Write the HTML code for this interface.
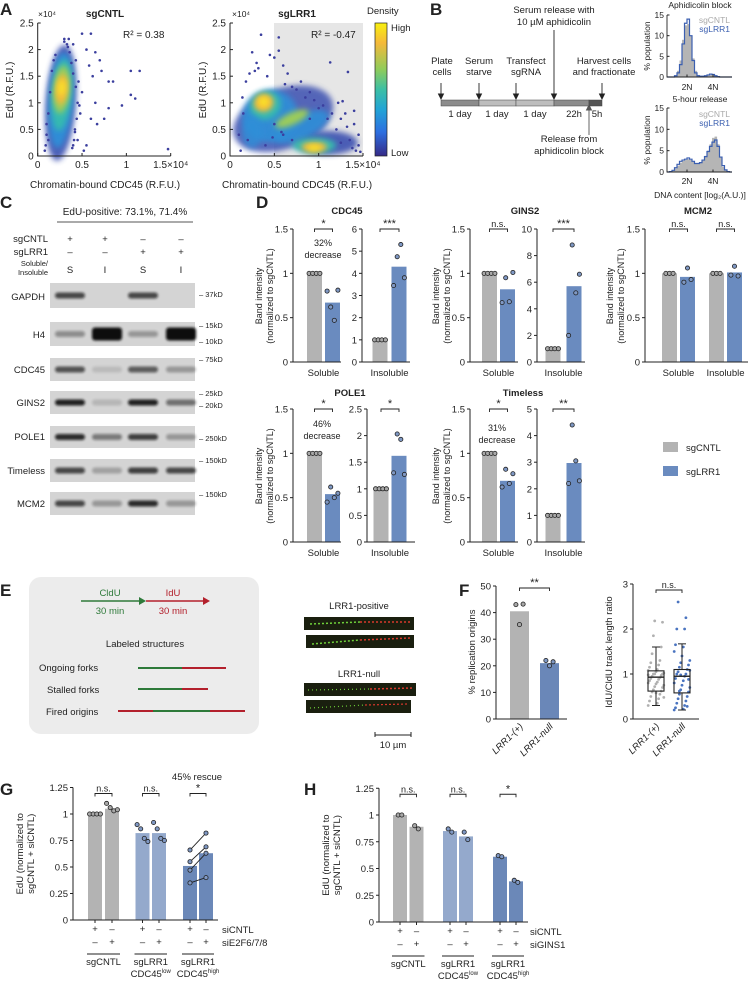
<!DOCTYPE html>
<html><head><meta charset="utf-8">
<style>
html,body{margin:0;padding:0;background:#fff;}
svg{display:block;font-family:"Liberation Sans",Arial,sans-serif;}
text{fill:#222;}
</style></head>
<body>
<svg id="fig" width="753" height="981" viewBox="0 0 753 981" xmlns="http://www.w3.org/2000/svg">
<defs>
<filter id="blur3" x="-50%" y="-50%" width="200%" height="200%"><feGaussianBlur stdDeviation="3"/></filter>
<filter id="blur1" x="-50%" y="-50%" width="200%" height="200%"><feGaussianBlur stdDeviation="1.4"/></filter>
<linearGradient id="parula" x1="0" y1="0" x2="0" y2="1">
<stop offset="0" stop-color="#f9f00f"/><stop offset="0.15" stop-color="#f5b93a"/><stop offset="0.35" stop-color="#8fcc5b"/><stop offset="0.5" stop-color="#3cbfa5"/><stop offset="0.65" stop-color="#22a4d6"/><stop offset="0.82" stop-color="#2d6fe0"/><stop offset="1" stop-color="#352a87"/>
</linearGradient>
</defs>

<!-- PANEL LETTERS -->
<g font-weight="bold" font-size="17">
<text x="0" y="15">A</text><text x="430" y="15">B</text><text x="0" y="208">C</text><text x="256" y="208">D</text>
<text x="0" y="596">E</text><text x="459" y="596">F</text><text x="0" y="795">G</text><text x="304" y="795">H</text>
</g>

<!-- PANEL A -->
<g id="panelA" font-size="9.5">
<rect x="274" y="23" width="89" height="133" fill="#e6e6e6"/>
<text x="38" y="17" font-size="8.5">×10⁴</text><text x="232" y="17" font-size="8.5">×10⁴</text>
<text x="105" y="17" font-weight="bold" text-anchor="middle" font-size="10">sgCNTL</text>
<text x="297" y="17" font-weight="bold" text-anchor="middle" font-size="10">sgLRR1</text>
<text x="123" y="38" font-size="10">R² = 0.38</text><text x="311" y="38" font-size="10">R² = -0.47</text>
<text transform="translate(13,90) rotate(-90)" text-anchor="middle" font-size="10">EdU (R.F.U.)</text>
<text transform="translate(206,90) rotate(-90)" text-anchor="middle" font-size="10">EdU (R.F.U.)</text>
<text x="105" y="188" text-anchor="middle" font-size="10">Chromatin-bound CDC45 (R.F.U.)</text>
<text x="297" y="188" text-anchor="middle" font-size="10">Chromatin-bound CDC45 (R.F.U.)</text>
<text x="367" y="14" font-size="9.5">Density</text>
<rect x="375" y="23" width="12" height="133" fill="url(#parula)" stroke="#222" stroke-width="0.7"/>
<text x="391" y="31">High</text><text x="391" y="156">Low</text>
</g>

<!-- PANEL B -->
<g id="panelB" font-size="9.5" text-anchor="middle">
<text x="554" y="13">Serum release with</text><text x="554" y="25">10 µM aphidicolin</text>
<text x="442" y="64">Plate</text><text x="442" y="75">cells</text>
<text x="479" y="64">Serum</text><text x="479" y="75">starve</text>
<text x="526" y="64">Transfect</text><text x="526" y="75">sgRNA</text>
<text x="604" y="64">Harvest cells</text><text x="604" y="75">and fractionate</text>
<g stroke="#222" stroke-width="0.9" fill="#222">
<line x1="441" y1="83" x2="441" y2="96"/><path d="M438.5 94 L441 99 L443.5 94Z"/>
<line x1="479" y1="83" x2="479" y2="96"/><path d="M476.5 94 L479 99 L481.5 94Z"/>
<line x1="516" y1="83" x2="516" y2="96"/><path d="M513.5 94 L516 99 L518.5 94Z"/>
<line x1="554" y1="30" x2="554" y2="96"/><path d="M551.5 94 L554 99 L556.5 94Z"/>
<line x1="602" y1="83" x2="602" y2="96"/><path d="M599.5 94 L602 99 L604.5 94Z"/>
<line x1="589" y1="108" x2="589" y2="135" stroke="#555"/><path d="M586.5 110 L589 105 L591.5 110Z" fill="#555" stroke="#555"/>
</g>
<rect x="441" y="100" width="38" height="6" fill="#8c8c8c" stroke="#444" stroke-width="0.5"/>
<rect x="479" y="100" width="37" height="6" fill="#bdbdbd" stroke="#444" stroke-width="0.5"/>
<rect x="516" y="100" width="38" height="6" fill="#bdbdbd" stroke="#444" stroke-width="0.5"/>
<rect x="554" y="100" width="35" height="6" fill="#8c8c8c" stroke="#444" stroke-width="0.5"/>
<rect x="589" y="100" width="13" height="6" fill="#555" stroke="#444" stroke-width="0.5"/>
<text x="460" y="117">1 day</text><text x="497" y="117">1 day</text><text x="535" y="117">1 day</text><text x="574" y="117">22h</text><text x="597" y="117">5h</text>
<text x="569" y="142">Release from</text><text x="569" y="154">aphidicolin block</text>
<text x="700" y="8" font-size="8.5">Aphidicolin block</text>
<text x="700" y="102" font-size="8.5">5-hour release</text>
<text x="700" y="198" font-size="8.5">DNA content [log₂(A.U.)]</text>
<text x="687" y="90" font-size="8.5">2N</text><text x="713" y="90" font-size="8.5">4N</text>
<text x="687" y="184" font-size="8.5">2N</text><text x="713" y="184" font-size="8.5">4N</text>
<text transform="translate(650,46) rotate(-90)" font-size="8.5">% population</text>
<text transform="translate(650,140) rotate(-90)" font-size="8.5">% population</text>
<g text-anchor="end" font-size="8.5">
<text x="730" y="23" style="fill:#aaa">sgCNTL</text><text x="730" y="32" style="fill:#3b5fb0">sgLRR1</text>
<text x="730" y="117" style="fill:#aaa">sgCNTL</text><text x="730" y="126" style="fill:#3b5fb0">sgLRR1</text>
</g>
</g>

<!-- PANEL C -->
<g id="panelC" font-size="9.5">
<text x="125" y="215" text-anchor="middle" font-size="10">EdU-positive: 73.1%, 71.4%</text>
<line x1="57" y1="222" x2="193" y2="222" stroke="#555" stroke-width="1"/>
<g text-anchor="end"><text x="48" y="242">sgCNTL</text><text x="48" y="255">sgLRR1</text>
<text x="48" y="266" font-size="7.5">Soluble/</text><text x="48" y="275" font-size="7.5">Insoluble</text>
<text x="45" y="300">GAPDH</text><text x="45" y="338">H4</text><text x="45" y="373">CDC45</text><text x="45" y="406">GINS2</text><text x="45" y="440">POLE1</text><text x="45" y="474">Timeless</text><text x="45" y="507">MCM2</text></g>
<g text-anchor="middle">
<text x="70" y="242">+</text><text x="105" y="242">+</text><text x="143" y="242">–</text><text x="181" y="242">–</text>
<text x="70" y="255">–</text><text x="105" y="255">–</text><text x="143" y="255">+</text><text x="181" y="255">+</text>
<text x="70" y="273">S</text><text x="105" y="273">I</text><text x="143" y="273">S</text><text x="181" y="273">I</text></g>
<g font-size="7.5">
<text x="199" y="297">– 37kD</text><text x="199" y="328">– 15kD</text><text x="199" y="344">– 10kD</text>
<text x="199" y="362">– 75kD</text><text x="199" y="396">– 25kD</text><text x="199" y="408">– 20kD</text>
<text x="199" y="441">– 250kD</text><text x="199" y="463">– 150kD</text><text x="199" y="497">– 150kD</text></g>
<g id="blots"></g>
</g>

<!-- PANEL D -->
<g id="panelD" font-size="9.5">
<g font-weight="bold" text-anchor="middle" font-size="9.5">
<text x="347" y="214">CDC45</text><text x="525" y="214">GINS2</text><text x="698" y="214">MCM2</text>
<text x="350" y="396">POLE1</text><text x="523" y="396">Timeless</text></g>
<g text-anchor="middle" font-size="9">
<text transform="translate(262,296) rotate(-90)">Band intensity</text><text transform="translate(273,296) rotate(-90)">(normalized to sgCNTL)</text>
<text transform="translate(439,296) rotate(-90)">Band intensity</text><text transform="translate(450,296) rotate(-90)">(normalized to sgCNTL)</text>
<text transform="translate(613,296) rotate(-90)">Band intensity</text><text transform="translate(624,296) rotate(-90)">(normalized to sgCNTL)</text>
<text transform="translate(262,476) rotate(-90)">Band intensity</text><text transform="translate(273,476) rotate(-90)">(normalized to sgCNTL)</text>
<text transform="translate(439,476) rotate(-90)">Band intensity</text><text transform="translate(450,476) rotate(-90)">(normalized to sgCNTL)</text>
<text x="323" y="246">32%</text><text x="323" y="258">decrease</text>
<text x="322" y="427">46%</text><text x="322" y="439">decrease</text>
<text x="497" y="431">31%</text><text x="497" y="443">decrease</text>
</g>
<rect x="663" y="442" width="15" height="10" fill="#b3b3b3"/>
<text x="686" y="451">sgCNTL</text>
<rect x="663" y="466" width="15" height="10" fill="#6a8bbf"/>
<text x="686" y="475">sgLRR1</text>
</g>

<!-- PANEL E -->
<g id="panelE" font-size="9.5">
<rect x="29" y="577" width="230" height="157" rx="12" fill="#ececec"/>
<text x="110" y="596" text-anchor="middle" style="fill:#2e7a3a">CldU</text><text x="173" y="596" text-anchor="middle" style="fill:#b3202c">IdU</text>
<line x1="81" y1="601" x2="141" y2="601" stroke="#2e7a3a" stroke-width="1.6"/><path d="M139 597 L146 601 L139 605Z" fill="#2e7a3a"/>
<line x1="146" y1="601" x2="205" y2="601" stroke="#b3202c" stroke-width="1.6"/><path d="M203 597 L210 601 L203 605Z" fill="#b3202c"/>
<text x="110" y="614" text-anchor="middle" style="fill:#2e7a3a">30 min</text><text x="173" y="614" text-anchor="middle" style="fill:#b3202c">30 min</text>
<text x="145" y="647" text-anchor="middle">Labeled structures</text>
<text x="39" y="671">Ongoing forks</text><text x="47" y="693">Stalled forks</text><text x="46" y="715">Fired origins</text>
<g stroke-width="2">
<line x1="138" y1="668" x2="182" y2="668" stroke="#2e7a3a"/><line x1="182" y1="668" x2="226" y2="668" stroke="#b3202c"/>
<line x1="138" y1="689" x2="182" y2="689" stroke="#2e7a3a"/><line x1="182" y1="689" x2="208" y2="689" stroke="#b3202c"/>
<line x1="118" y1="711" x2="153" y2="711" stroke="#b3202c"/><line x1="153" y1="711" x2="210" y2="711" stroke="#2e7a3a"/><line x1="210" y1="711" x2="245" y2="711" stroke="#b3202c"/>
</g>
<text x="359" y="609" text-anchor="middle">LRR1-positive</text><text x="359" y="677" text-anchor="middle">LRR1-null</text>
<g>
<rect x="304" y="617" width="110" height="13" fill="#1a1f0f"/><rect x="306" y="635" width="108" height="13" fill="#1a1f0f"/>
<rect x="304" y="683" width="112" height="13" fill="#1a1f0f"/><rect x="306" y="700" width="105" height="13" fill="#1a1f0f"/>
<line x1="310" y1="624" x2="360" y2="622" stroke="#6fd13a" stroke-width="1.5" stroke-dasharray="2 2"/><line x1="360" y1="622" x2="410" y2="622" stroke="#d8382c" stroke-width="1.5" stroke-dasharray="2 2"/>
<line x1="312" y1="644" x2="360" y2="640" stroke="#6fd13a" stroke-width="1.5" stroke-dasharray="2 2"/><line x1="360" y1="640" x2="410" y2="638" stroke="#d8382c" stroke-width="1.5" stroke-dasharray="2 2"/>
<line x1="308" y1="690" x2="370" y2="689" stroke="#6fd13a" stroke-width="1.2" stroke-dasharray="1 3"/><line x1="370" y1="689" x2="414" y2="688" stroke="#d8382c" stroke-width="1.5" stroke-dasharray="2 2"/>
<line x1="310" y1="708" x2="365" y2="705" stroke="#6fd13a" stroke-width="1.2" stroke-dasharray="1 3"/><line x1="365" y1="705" x2="408" y2="704" stroke="#d8382c" stroke-width="1.2" stroke-dasharray="2 2"/>
</g>
<line x1="375" y1="735" x2="411" y2="735" stroke="#222" stroke-width="1"/><line x1="375" y1="732" x2="375" y2="737" stroke="#222"/><line x1="411" y1="732" x2="411" y2="737" stroke="#222"/>
<text x="393" y="748" text-anchor="middle">10 µm</text>
</g>

<g id="charts"></g>
</svg>

<script>
const NS = 'http://www.w3.org/2000/svg';
function mk(parent, tag, attrs, text) {
  const e = document.createElementNS(NS, tag);
  for (const k in attrs) e.setAttribute(k, attrs[k]);
  if (text != null) e.textContent = text;
  parent.appendChild(e);
  return e;
}
const charts = document.getElementById('charts');

/* ---------- DATA ---------- */
const aLeftX = [0.5,0.6,0.55,0.65,0.7,0.8,0.85,0.62,1.05,1.15,1.05,1.1,0.95,0.75,0.8,0.65,0.6,0.67,0.55,0.52,1.47,0.45,0.5,0.58,0.72,0.48,0.43,0.4,0.35,0.3,0.12,0.1,0.42,0.46,
  0.08,0.09,0.1,0.12,0.14,0.16,0.4,0.42,0.44,0.45,0.43,0.4,0.38,0.36,0.34,0.2,0.18,0.3,0.33,0.47,0.41,0.39];
const aLeftY = [2.3,2.3,2.0,1.95,1.8,1.4,1.4,1.5,1.6,1.6,1.15,1.08,0.95,0.7,0.9,1.0,0.7,0.6,0.2,0.1,0.13,0.3,1.2,1.7,1.6,0.8,1.8,2.1,2.2,2.2,0.3,0.6,0.5,1.4,
  0.1,0.2,0.4,0.8,1.2,1.6,0.2,0.45,0.7,1.0,1.3,1.55,1.75,1.95,2.05,1.9,1.8,2.15,2.1,0.95,0.3,0.15];
const aRightX = [0.35,0.55,0.55,0.6,0.5,0.45,1.13,1.33,1.22,1.27,1.3,1.4,1.45,0.7,0.9,0.8,1.0,1.1,1.2,1.35,0.25,0.3,0.18,0.15,0.2,0.6,0.7,0.5,1.42,1.38,1.25,0.95,0.65,
  0.12,0.1,0.14,0.22,0.28,0.32,0.42,0.62,0.75,0.85,1.05,1.15,1.25,1.32,1.45,1.47,0.4,0.48,0.58,0.9,1.4];
const aRightY = [2.28,2.23,1.98,1.7,1.85,1.9,1.76,1.58,1.0,1.03,0.8,0.6,0.2,1.3,1.2,1.4,0.9,0.7,0.5,0.3,1.95,1.75,1.4,0.8,0.3,0.4,0.3,0.6,0.1,0.15,0.25,1.05,1.55,
  0.1,0.4,1.1,1.55,1.6,1.65,1.5,1.35,1.25,1.1,0.95,0.8,0.7,0.55,0.4,0.08,0.2,0.35,0.45,0.7,0.85];
const aTicksY = [0,0.5,1,1.5,2,2.5];
const aTickLabY = ['0','0.5','1','1.5','2','2.5'];
const aTicksX = [0,0.5,1,1.5];
const aTickLabX = ['0','0.5','1','1.5×10⁴'];

const histTopCNTL = [0,0,0,0.4,1.5,4,9,12.5,12.8,10,4.5,1.5,0.5,0.3,0.3,0.4,0.5,0.5,0.4,0.3,0.1,0,0,0,0,0];
const histTopLRR1 = [0,0,0,0.3,1,3,8,13,14,10,4,1,0.3,0.2,0.2,0.3,0.5,0.7,0.6,0.3,0.1,0,0,0,0,0];
const histBotCNTL = [0,0.1,0.3,0.8,1.5,2.2,2.6,2.8,3,2.8,2.4,2,2,2.2,2.8,3.8,5,6.5,8,8.3,6.5,3.5,1.2,0.4,0.1,0];
const histBotLRR1 = [0,0.1,0.4,1,1.8,2.5,2.8,3,3.3,3,2.5,2,2,2.2,2.8,3.6,4.8,6,7,7.5,6,3.5,1.5,0.5,0.1,0];
const histTicks = [0,5,10,15];

const blotRows = ['GAPDH','H4','CDC45','GINS2','POLE1','Timeless','MCM2'];
const blotGAPDH = [0.7,0,0.7,0];
const blotH4 = [0.35,1,0.3,1];
const blotCDC45 = [0.65,0.12,0.6,0.3];
const blotGINS2 = [0.9,0.15,0.9,0.5];
const blotPOLE1 = [0.85,0.45,0.75,0.3];
const blotTimeless = [0.7,0.25,0.75,0.7];
const blotMCM2 = [0.7,0.3,0.85,0.3];

const cdc45Sol = [1, 0.67];       const cdc45SolDots = [[1,1,1,1],[0.8,0.62,0.47,0.81]];
const cdc45Ins = [1, 4.3];        const cdc45InsDots = [[1,1,1,1],[3.45,4.75,5.3,3.8]];
const gins2Sol = [1, 0.82];       const gins2SolDots = [[1,1,1,1],[0.67,0.95,0.68,1.01]];
const gins2Ins = [1, 5.7];        const gins2InsDots = [[1,1,1,1],[2.0,8.8,5.2,6.6]];
const mcm2Sol = [1, 0.96];        const mcm2SolDots = [[1,1,1],[0.9,1.06,0.93]];
const mcm2Ins = [1, 1.01];        const mcm2InsDots = [[1,1,1],[0.98,1.08,0.97]];
const pole1Sol = [1, 0.54];       const pole1SolDots = [[1,1,1,1],[0.45,0.62,0.5,0.55]];
const pole1Ins = [1, 1.62];       const pole1InsDots = [[1,1,1,1],[1.3,2.03,1.93,1.27]];
const timelessSol = [1, 0.69];    const timelessSolDots = [[1,1,1,1],[0.62,0.82,0.66,0.77]];
const timelessIns = [1, 2.97];    const timelessInsDots = [[1,1,1,1],[2.2,4.4,3.05,2.3]];

const fCats = ['LRR1-(+)','LRR1-null'];
const fOrigins = [40.5, 21];
const fOriginDots = [[43,35.5,43.2],[22,20,21.5]];
const fBoxPos = [0.3,0.62,0.93,1.07,1.6];
const fBoxNull = [0.2,0.58,0.95,1.1,1.67];
const fPtsPos = [0.3,0.35,0.4,0.45,0.5,0.55,0.6,0.62,0.65,0.7,0.72,0.75,0.78,0.8,0.82,0.85,0.88,0.9,0.92,0.95,0.97,1.0,1.0,1.0,1.02,1.05,1.08,1.1,1.15,1.2,1.25,1.3,1.45,1.6,1.85,2.15,2.18,0.48,0.58,0.98];
const fPtsNull = [0.2,0.22,0.25,0.3,0.35,0.4,0.45,0.5,0.55,0.6,0.65,0.7,0.75,0.8,0.85,0.9,0.95,1.0,1.0,1.05,1.1,1.15,1.2,1.25,1.3,1.4,1.5,1.6,1.65,2.0,2.0,2.25,2.6,0.28,0.62,0.88,0.98,1.08];

const gVals = [1, 1.05, 0.82, 0.82, 0.51, 0.63];
const gDots = [[1,1,1,1],[1.1,1.06,1.03,1.04],[0.9,0.86,0.77,0.74],[0.92,0.86,0.77,0.75],[0.66,0.55,0.47,0.35],[0.82,0.69,0.63,0.40]];
const hVals = [1, 0.89, 0.85, 0.80, 0.61, 0.38];
const hDots = [[1,1],[0.9,0.87],[0.87,0.84],[0.84,0.77],[0.62,0.61],[0.39,0.37]];
const ghTicks = [0,0.25,0.5,0.75,1,1.25];
const ghTickLab = ['0','0.25','0.5','0.75','1','1.25'];

/* ---------- PANEL A ---------- */
function aPlot(x0, name) {
  const g = mk(charts, 'g', {});
  
  
  const xs = v => x0 + v / 1.5 * 133;
  const ys = v => 156 - v / 2.5 * 133;
  return {g, xs, ys};
}
function aAxes(p, x0) {
  const ax = mk(p.g, 'path', {d: `M${x0} 23 L${x0} 156 L${x0+133} 156`, fill: 'none', stroke: '#222', 'stroke-width': 1});
  
  
  aTicksY.forEach((v, i) => {
    mk(p.g, 'line', {x1: x0, x2: x0 + 3, y1: p.ys(v), y2: p.ys(v), stroke: '#222'});
    const t = mk(p.g, 'text', {x: x0 - 4, y: p.ys(v) + 3.5, 'text-anchor': 'end', 'font-size': 10}, aTickLabY[i]);
    
    
  });
  aTicksX.forEach((v, i) => {
    mk(p.g, 'line', {x1: p.xs(v), x2: p.xs(v), y1: 156, y2: 153, stroke: '#222'});
    const t = mk(p.g, 'text', {x: p.xs(v), y: 168, 'text-anchor': 'middle', 'font-size': 10}, aTickLabX[i]);
    
    
  });
}
function cloud(p, cx, cy, rx, ry, rot, fill, op) {
  const e = mk(p.g, 'ellipse', {cx: p.xs(cx), cy: p.ys(cy), rx: rx, ry: ry, fill: fill, opacity: op, filter: 'url(#blur3)', transform: `rotate(${rot} ${p.xs(cx)} ${p.ys(cy)})`});
  
  
}
const pA1 = aPlot(37.7, 'scatter-sgcntl');
const pA2 = aPlot(230, 'scatter-sglrr1');
cloud(pA1, 0.26, 1.0, 15, 58, 4, '#3a4fb0', 0.9);
cloud(pA1, 0.26, 1.05, 12, 48, 4, '#2f8fd8', 0.95);
cloud(pA1, 0.27, 1.15, 10, 36, 5, '#35b9b0', 1);
cloud(pA1, 0.27, 1.25, 8, 24, 5, '#9ccc5a', 1);
cloud(pA1, 0.27, 1.25, 6, 15, 5, '#f5b93a', 1);
cloud(pA1, 0.27, 1.28, 3.5, 8, 5, '#f9e325', 1);
cloud(pA2, 0.6, 0.7, 52, 30, -20, '#3a4fb0', 0.85);
cloud(pA2, 1.1, 0.25, 30, 12, 0, '#3a4fb0', 0.9);
cloud(pA2, 0.45, 0.75, 28, 26, -20, '#2f8fd8', 0.9);
cloud(pA2, 0.8, 0.55, 30, 12, -25, '#2f8fd8', 0.9);
cloud(pA2, 0.95, 0.2, 22, 8, 0, '#35b9b0', 1);
cloud(pA2, 0.4, 0.95, 16, 14, -25, '#35b9b0', 1);
cloud(pA2, 0.7, 0.7, 18, 6, -25, '#9ccc5a', 1);
cloud(pA2, 0.38, 1.0, 10, 9, -20, '#f5b93a', 1);
cloud(pA2, 0.95, 0.17, 13, 5, 0, '#f5b93a', 1);
cloud(pA2, 0.38, 1.02, 5, 5, 0, '#f9e325', 1);
cloud(pA2, 0.95, 0.15, 7, 3, 0, '#f9e325', 1);
cloud(pA2, 0.25, 0.45, 10, 16, 0, '#2f8fd8', 0.8);
aLeftX.forEach((v, i) => {
  const c = mk(pA1.g, 'circle', {cx: pA1.xs(v), cy: pA1.ys(aLeftY[i]), r: 1.3, fill: '#3b3f9e'});
  
  
});
aRightX.forEach((v, i) => {
  const c = mk(pA2.g, 'circle', {cx: pA2.xs(v), cy: pA2.ys(aRightY[i]), r: 1.3, fill: '#3b3f9e'});
  
  
});
aAxes(pA1, 37.7);
aAxes(pA2, 230);

/* ---------- PANEL B histograms ---------- */
function hist(y0, yTop, cntl, lrr1, name) {
  const g = mk(charts, 'g', {});
  
  
  const x0 = 667, x1 = 732, n = cntl.length, bw = (x1 - x0) / n;
  const ys = v => y0 - v / 15 * (y0 - yTop);
  cntl.forEach((v, i) => {
    const r = mk(g, 'rect', {x: x0 + i * bw, y: ys(v), width: bw + 0.1, height: y0 - ys(v), fill: '#b5b5b5'});
    
    
  });
  let d = `M${x0} ${y0}`;
  lrr1.forEach((v, i) => { d += ` L${x0 + i * bw} ${ys(v)} L${x0 + (i + 1) * bw} ${ys(v)}`; });
  const l = mk(g, 'path', {d: d, fill: 'none', stroke: '#3b5fb0', 'stroke-width': 1.2});
  
  
  mk(g, 'path', {d: `M${x0} ${yTop} L${x0} ${y0} L${x1} ${y0}`, fill: 'none', stroke: '#222', 'stroke-width': 0.9});
  histTicks.forEach(v => {
    mk(g, 'line', {x1: x0, x2: x0 + 2.5, y1: ys(v), y2: ys(v), stroke: '#222'});
    mk(g, 'text', {x: x0 - 3, y: ys(v) + 3, 'text-anchor': 'end', 'font-size': 8.5}, String(v));
  });
  [687, 713].forEach(x => mk(g, 'line', {x1: x, x2: x, y1: y0, y2: y0 - 2.5, stroke: '#222'}));
}
hist(77, 15, histTopCNTL, histTopLRR1, 'histogram-aphidicolin-block');
hist(172, 108, histBotCNTL, histBotLRR1, 'histogram-5h-release');

/* ---------- PANEL C blots ---------- */
(function () {
  const g = document.getElementById('blots');
  const rowsY = [[283,25],[322,24],[358,23],[391,23],[426,22],[459,23],[492,23]];
  const data = [blotGAPDH, blotH4, blotCDC45, blotGINS2, blotPOLE1, blotTimeless, blotMCM2];
  const lanes = [70, 107, 143, 181];
  data.forEach((row, ri) => {
    const [y, h] = rowsY[ri];
    const bg = mk(g, 'rect', {x: 50, y: y, width: 145, height: h, fill: '#d4d4d4'});
    
    
    row.forEach((v, li) => {
      if (v <= 0) return;
      const bh = blotRows[ri] === 'H4' && v > 0.8 ? 13 : 6;
      const b = mk(g, 'rect', {x: lanes[li] - 15, y: y + h / 2 - bh / 2, width: 30, height: bh, rx: 3, fill: '#111', opacity: v, filter: 'url(#blur1)'});
      
      
    });
  });
})();

/* ---------- generic bar plot ---------- */
function barAxes(name, x0, x1, y0, yTop, max, ticks, labels) {
  const g = mk(charts, 'g', {'font-size': 9.5});
  
  
  const ys = v => y0 - v / max * (y0 - yTop);
  return {g, ys, x0, x1, y0, yTop, ticks, labels};
}
function finishAxes(p) {
  const a = mk(p.g, 'path', {d: `M${p.x0} ${p.yTop} L${p.x0} ${p.y0} L${p.x1} ${p.y0}`, fill: 'none', stroke: '#222', 'stroke-width': 1});
  
  
  p.ticks.forEach((v, i) => {
    mk(p.g, 'line', {x1: p.x0 - 3, x2: p.x0, y1: p.ys(v), y2: p.ys(v), stroke: '#222'});
    const t = mk(p.g, 'text', {x: p.x0 - 5, y: p.ys(v) + 3.5, 'text-anchor': 'end'}, p.labels[i]);
    
    
  });
}
function drawBars(p, cxs, vals, dots, colors, w, dotFill) {
  vals.forEach((v, i) => {
    const b = mk(p.g, 'rect', {x: cxs[i] - w / 2, y: p.ys(v), width: w, height: p.y0 - p.ys(v), fill: colors[i]});
    
    
  });
  if (!dots) return;
  dots.forEach((arr, i) => {
    const n = arr.length;
    arr.forEach((d, j) => {
      const c = mk(p.g, 'circle', {cx: cxs[i] + (j - (n - 1) / 2) * 3.6, cy: p.ys(d), r: 2.1, fill: dotFill[i], stroke: '#222', 'stroke-width': 0.8});
      
      
    });
  });
}
function sig(g, xa, xb, y, label) {
  mk(g, 'path', {d: `M${xa} ${y + 3} L${xa} ${y} L${xb} ${y} L${xb} ${y + 3}`, fill: 'none', stroke: '#222', 'stroke-width': 0.9});
  const t = mk(g, 'text', {x: (xa + xb) / 2, y: y - 2, 'text-anchor': 'middle', 'font-size': label.indexOf('*') >= 0 ? 11 : 9}, label);
  
  
}
function catLabel(g, x, y, s) {
  const t = mk(g, 'text', {x: x, y: y, 'text-anchor': 'middle', 'font-size': 9.5}, s);
  
  
}

/* ---------- PANEL D ---------- */
const GRAY = '#b3b3b3', BLUE = '#6a8bbf', DG = '#a8a8a8', DB = '#7f98c4';
const t15 = [0,0.5,1,1.5], l15 = ['0','0.5','1','1.5'];
function dPair(name, axX, y0, yTop, max, ticks, labels, cx, vals, dots, sigLab, cat) {
  const p = barAxes(name, axX, axX + 48, y0, yTop, max, ticks, labels);
  drawBars(p, cx, vals, dots, [GRAY, BLUE], 15, [DG, DB]);
  finishAxes(p);
  sig(p.g, cx[0], cx[1], yTop, sigLab);
  catLabel(p.g, (cx[0] + cx[1]) / 2, y0 + 14, cat);
}
dPair('cdc45-soluble', 293, 362, 229, 1.5, t15, l15, [314.5, 332.5], cdc45Sol, cdc45SolDots, '*', 'Soluble');
dPair('cdc45-insoluble', 362, 362, 229, 6, [0,1,2,3,4,5,6], ['0','1','2','3','4','5','6'], [380, 399], cdc45Ins, cdc45InsDots, '***', 'Insoluble');
dPair('gins2-soluble', 470, 362, 229, 1.5, t15, l15, [489.5, 507.5], gins2Sol, gins2SolDots, 'n.s.', 'Soluble');
dPair('gins2-insoluble', 537, 362, 229, 10, [0,2,4,6,8,10], ['0','2','4','6','8','10'], [553, 574], gins2Ins, gins2InsDots, '***', 'Insoluble');
(function () {
  const p = barAxes('mcm2-chart', 645, 748, 362, 229, 1.5, t15, l15);
  drawBars(p, [669.5, 687.5, 716.5, 734.5], [mcm2Sol[0], mcm2Sol[1], mcm2Ins[0], mcm2Ins[1]],
    [mcm2SolDots[0], mcm2SolDots[1], mcm2InsDots[0], mcm2InsDots[1]], [GRAY, BLUE, GRAY, BLUE], 15, [DG, DB, DG, DB]);
  finishAxes(p);
  sig(p.g, 669.5, 687.5, 229, 'n.s.');
  sig(p.g, 716.5, 734.5, 229, 'n.s.');
  catLabel(p.g, 678.5, 376, 'Soluble');
  catLabel(p.g, 725.5, 376, 'Insoluble');
})();
dPair('pole1-soluble', 293, 542, 409, 1.5, t15, l15, [314.5, 332.5], pole1Sol, pole1SolDots, '*', 'Soluble');
dPair('pole1-insoluble', 367, 542, 409, 2.5, [0,0.5,1,1.5,2,2.5], ['0','0.5','1','1.5','2','2.5'], [381, 399], pole1Ins, pole1InsDots, '*', 'Insoluble');
dPair('timeless-soluble', 470, 542, 409, 1.5, t15, l15, [489.5, 507.5], timelessSol, timelessSolDots, '*', 'Soluble');
dPair('timeless-insoluble', 537, 542, 409, 5, [0,1,2,3,4,5], ['0','1','2','3','4','5'], [553, 574], timelessIns, timelessInsDots, '**', 'Insoluble');

/* ---------- PANEL F ---------- */
(function () {
  const p = barAxes('replication-origins-chart', 496, 567, 719, 586, 50, [0,10,20,30,40,50], ['0','10','20','30','40','50']);
  drawBars(p, [519.5, 549.5], fOrigins, fOriginDots, ['#b3b3b3', '#6a87b8'], 19, [DG, DB]);
  finishAxes(p);
  sig(p.g, 519.5, 549.5, 588, '**');
  const yl = mk(p.g, 'text', {transform: 'translate(475,652) rotate(-90)', 'text-anchor': 'middle', 'font-size': 9.5}, '% replication origins');
  
  
  fCats.forEach((c, i) => {
    const x = [519.5, 549.5][i];
    const t = mk(p.g, 'text', {transform: `translate(${x + 4},727) rotate(-45)`, 'text-anchor': 'end', 'font-size': 9.5, 'font-style': 'italic'}, c);
    
    
  });
})();
(function () {
  const p = barAxes('track-ratio-boxplot', 633, 699, 719, 584, 3, [0,1,2,3], ['0','1','2','3']);
  const centers = [656, 682];
  [fPtsPos, fPtsNull].forEach((pts, k) => {
    pts.forEach((v, j) => {
      const off = ((j * 7) % 13 - 6) * 1.3;
      const c = mk(p.g, 'circle', {cx: centers[k] + off, cy: p.ys(v), r: 1.4, fill: k ? '#4a74c0' : '#b0b0b0'});
      
      
    });
  });
  [fBoxPos, fBoxNull].forEach((b, k) => {
    const cx = centers[k];
    const bx = mk(p.g, 'rect', {x: cx - 8, y: p.ys(b[3]), width: 16, height: p.ys(b[1]) - p.ys(b[3]), fill: 'none', stroke: '#222', 'stroke-width': 1.1});
    
    
    mk(p.g, 'line', {x1: cx - 8, x2: cx + 8, y1: p.ys(b[2]), y2: p.ys(b[2]), stroke: '#222', 'stroke-width': 1.4});
    mk(p.g, 'line', {x1: cx, x2: cx, y1: p.ys(b[3]), y2: p.ys(b[4]), stroke: '#222'});
    mk(p.g, 'line', {x1: cx, x2: cx, y1: p.ys(b[1]), y2: p.ys(b[0]), stroke: '#222'});
    mk(p.g, 'line', {x1: cx - 4, x2: cx + 4, y1: p.ys(b[4]), y2: p.ys(b[4]), stroke: '#222'});
    mk(p.g, 'line', {x1: cx - 4, x2: cx + 4, y1: p.ys(b[0]), y2: p.ys(b[0]), stroke: '#222'});
  });
  finishAxes(p);
  sig(p.g, 656, 682, 590, 'n.s.');
  const yl = mk(p.g, 'text', {transform: 'translate(612,652) rotate(-90)', 'text-anchor': 'middle', 'font-size': 9.5}, 'IdU/CldU track length ratio');
  
  
  fCats.forEach((c, i) => {
    const t = mk(p.g, 'text', {transform: `translate(${centers[i] + 4},727) rotate(-45)`, 'text-anchor': 'end', 'font-size': 9.5, 'font-style': 'italic'}, c);
    
    
  });
})();

/* ---------- PANELS G / H ---------- */
function ghPlot(name, axX, axEnd, y0, yOne, cxs, vals, dots, paired, sigs, siLabel, offsetLabelX) {
  const yTop = y0 - 1.25 * (y0 - yOne);
  const p = barAxes(name, axX, axEnd, y0, yTop, 1.25, ghTicks, ghTickLab);
  const cols = ['#b3b3b3', '#b3b3b3', '#94a9cc', '#94a9cc', '#6b88b8', '#6b88b8'];
  const dcol = [DG, DG, DB, DB, DB, DB];
  drawBars(p, cxs, vals, null, cols, 14, null);
  if (paired) {
    dots[4].forEach((v, j) => {
      const l = mk(p.g, 'line', {x1: cxs[4], y1: p.ys(v), x2: cxs[5], y2: p.ys(dots[5][j]), stroke: '#222', 'stroke-width': 0.9});
      
      
    });
  }
  dots.forEach((arr, i) => {
    arr.forEach((v, j) => {
      const off = paired && i >= 4 ? 0 : (j - (arr.length - 1) / 2) * 3.6;
      const c = mk(p.g, 'circle', {cx: cxs[i] + off, cy: p.ys(v), r: 2.1, fill: dcol[i], stroke: '#222', 'stroke-width': 0.8});
      
      
    });
  });
  finishAxes(p);
  for (let k = 0; k < 3; k++) sig(p.g, cxs[2 * k], cxs[2 * k + 1], yTop + 6, sigs[k]);
  const r1 = y0 + 12, r2 = y0 + 25, rl = y0 + 34;
  const groups = ['sgCNTL', 'sgLRR1', 'sgLRR1'];
  for (let k = 0; k < 3; k++) {
    const a = cxs[2 * k], b = cxs[2 * k + 1];
    mk(p.g, 'text', {x: a, y: r1, 'text-anchor': 'middle'}, '+');
    mk(p.g, 'text', {x: b, y: r1, 'text-anchor': 'middle'}, '–');
    mk(p.g, 'text', {x: a, y: r2, 'text-anchor': 'middle'}, '–');
    mk(p.g, 'text', {x: b, y: r2, 'text-anchor': 'middle'}, '+');
    mk(p.g, 'line', {x1: a - 8, x2: b + 8, y1: rl, y2: rl, stroke: '#222'});
    catLabel(p.g, (a + b) / 2, rl + 11, groups[k]);
    [a, b].forEach(x => mk(p.g, 'line', {x1: x, x2: x, y1: y0, y2: y0 + 3, stroke: '#222'}));
  }
  const sub = mk(p.g, 'text', {x: (cxs[2] + cxs[3]) / 2, y: rl + 23, 'text-anchor': 'middle', 'font-size': 9.5}, 'CDC45');
  mk(sub, 'tspan', {'font-size': 6, dy: -4}, 'low');
  const sub2 = mk(p.g, 'text', {x: (cxs[4] + cxs[5]) / 2, y: rl + 23, 'text-anchor': 'middle', 'font-size': 9.5}, 'CDC45');
  mk(sub2, 'tspan', {'font-size': 6, dy: -4}, 'high');
  mk(p.g, 'text', {x: offsetLabelX, y: r1 + 1}, 'siCNTL');
  mk(p.g, 'text', {x: offsetLabelX, y: r2 + 1}, siLabel);
  const yl1 = mk(p.g, 'text', {transform: `translate(${axX - 50},${(y0 + yTop) / 2}) rotate(-90)`, 'text-anchor': 'middle', 'font-size': 9.5}, 'EdU (normalized to');
  
  
  mk(p.g, 'text', {transform: `translate(${axX - 39},${(y0 + yTop) / 2}) rotate(-90)`, 'text-anchor': 'middle', 'font-size': 9.5}, 'sgCNTL + siCNTL)');
  return p;
}
const pG = ghPlot('panel-g-e2f-rescue', 73, 218, 920, 814, [95, 112, 142.5, 159, 190, 206], gVals, gDots, true, ['n.s.', 'n.s.', '*'], 'siE2F6/7/8', 222);
mk(pG.g, 'text', {x: 197, y: 780, 'text-anchor': 'middle', 'font-size': 9.5}, '45% rescue');
ghPlot('panel-h-gins1', 379, 528, 922, 815, [400, 416.5, 450, 466, 500, 516], hVals, hDots, false, ['n.s.', 'n.s.', '*'], 'siGINS1', 530);
</script>
</body></html>
